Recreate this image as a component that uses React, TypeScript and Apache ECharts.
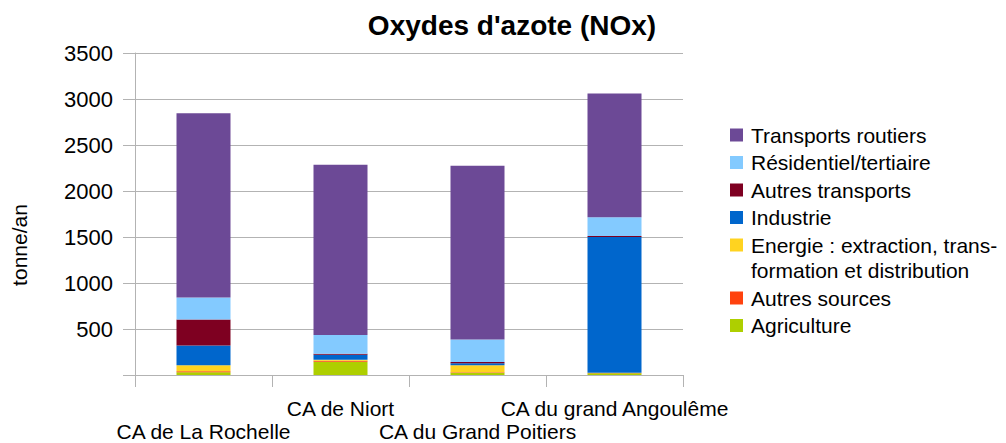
import React, { useEffect, useRef } from "react";
import * as echarts from "echarts";

const categories = ["CA de La Rochelle", "CA de Niort", "CA du Grand Poitiers", "CA du grand Angoulême"];
const agriculture = [30, 143, 25, 20];
const autresSources = [12, 12, 5, 3];
const energie = [65, 10, 75, 2];
const industrie = [215, 54, 22, 1475];
const autresTransports = [280, 12, 14, 12];
const residentiel = [240, 205, 244, 203];
const transportsRoutiers = [2003, 1850, 1890, 1345];
const yTicks = { min: 0, max: 3500, interval: 500 };

const seriesDefs = [
  { name: "Agriculture", data: agriculture, color: "#aecf00" },
  { name: "Autres sources", data: autresSources, color: "#ff420e" },
  { name: "Energie : extraction, trans-\nformation et distribution", data: energie, color: "#ffd320" },
  { name: "Industrie", data: industrie, color: "#0066cc" },
  { name: "Autres transports", data: autresTransports, color: "#7e0021" },
  { name: "Résidentiel/tertiaire", data: residentiel, color: "#83caff" },
  { name: "Transports routiers", data: transportsRoutiers, color: "#6c4996" },
];

const FONT = "'Liberation Sans', Arial, sans-serif";

export default function App() {
  const ref = useRef<HTMLDivElement>(null);
  useEffect(() => {
    if (!ref.current) return;
    const chart = echarts.init(ref.current, undefined, { renderer: "svg" });

    const legendItems: any[] = [];
    let y = 135;
    const step = 27.5;
    const extraLine = 25.5;
    [...seriesDefs].reverse().forEach((s) => {
      const lines = s.name.split("\n").length;
      legendItems.push({
        type: "rect",
        shape: { x: 730, y: y - 6.5, width: 13, height: 13 },
        style: { fill: s.color },
      });
      legendItems.push({
        type: "text",
        x: 751,
        y: y - extraLine / 2,
        style: {
          text: s.name,
          fontSize: 21,
          fontFamily: FONT,
          fill: "#000",
          lineHeight: extraLine,
          verticalAlign: "top",
          align: "left",
        },
      });
      y += step + (lines - 1) * extraLine;
    });

    chart.setOption({
      animation: false,
      title: {
        text: "Oxydes d'azote (NOx)",
        left: 512,
        textAlign: "center",
        top: 11,
        padding: 0,
        textStyle: { fontSize: 28, fontWeight: "bold", fontFamily: FONT, color: "#000" },
      },
      grid: { left: 135, right: 323, top: 53, bottom: 65, containLabel: false },
      xAxis: {
        type: "category",
        data: categories,
        axisLine: { lineStyle: { color: "#b3b3b3", width: 1 } },
        axisTick: { show: true, length: 12, lineStyle: { color: "#b3b3b3" } },
        axisLabel: {
          interval: 0,
          margin: 22,
          fontSize: 21,
          lineHeight: 23,
          color: "#000",
          fontFamily: FONT,
          formatter: (v: string, i: number) => (i % 2 === 0 ? "\n" + v : v),
        },
      },
      yAxis: {
        type: "value",
        min: yTicks.min,
        max: yTicks.max,
        interval: yTicks.interval,
        axisLine: { show: true, lineStyle: { color: "#b3b3b3", width: 1 } },
        axisTick: { show: true, length: 12, lineStyle: { color: "#b3b3b3" } },
        splitLine: { lineStyle: { color: "#b3b3b3", width: 1 } },
        axisLabel: {
          margin: 22,
          fontSize: 22,
          color: "#000",
          fontFamily: FONT,
          formatter: (v: number) => (v === 0 ? "" : String(v)),
        },
      },
      series: seriesDefs.map((s) => ({
        name: s.name,
        type: "bar",
        stack: "total",
        data: s.data,
        barWidth: 54,
        itemStyle: { color: s.color },
        emphasis: { disabled: true },
      })),
      graphic: [
        {
          type: "text",
          x: 19,
          y: 245,
          rotation: Math.PI / 2,
          style: {
            text: "tonne/an",
            fontSize: 21,
            fontFamily: FONT,
            fill: "#000",
            align: "center",
            verticalAlign: "middle",
          },
        },
        ...legendItems,
      ],
    });
    return () => chart.dispose();
  }, []);
  return (
    <div
      ref={ref}
      style={{ position: "fixed", left: 0, top: 0, width: 1006, height: 443, background: "#fff" }}
    />
  );
}
